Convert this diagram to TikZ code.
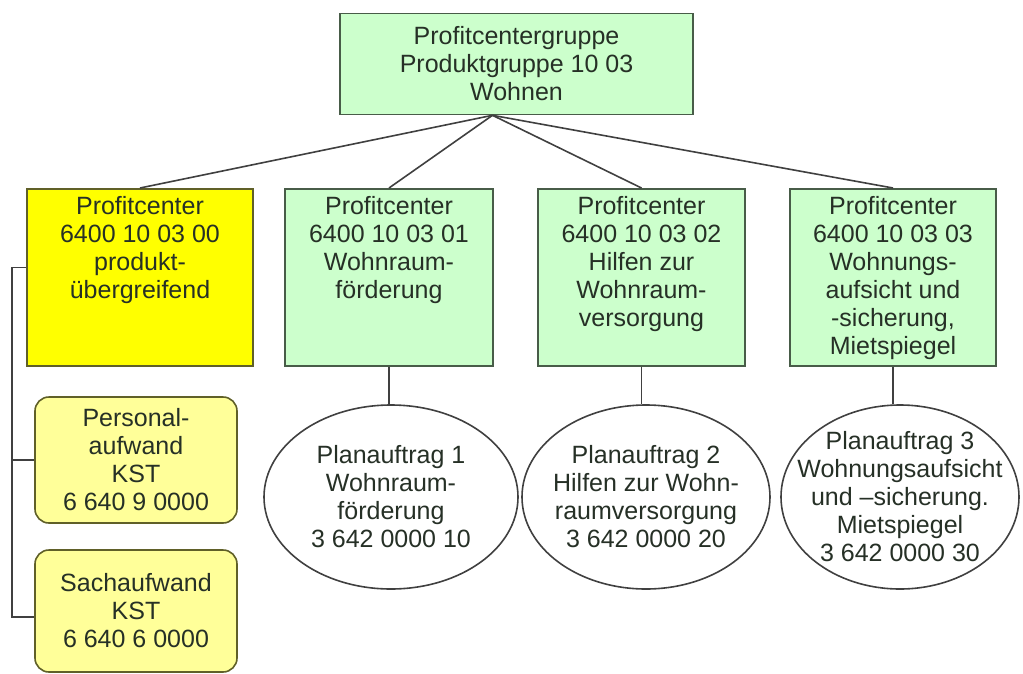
\documentclass[tikz,border=0pt]{standalone}
\usepackage{fontspec}
\setmainfont{Liberation Sans}
\definecolor{pcgreen}{RGB}{204,255,204}
\definecolor{pcline}{RGB}{72,92,72}
\definecolor{pcyellow}{RGB}{255,255,0}
\definecolor{kstyellow}{RGB}{255,255,153}
\definecolor{kstline}{RGB}{96,96,40}
\definecolor{pctext}{RGB}{38,48,38}
\definecolor{connline}{RGB}{64,64,64}
\usetikzlibrary{shapes.geometric, calc, positioning}

\newcommand{\toptext}[2]{\parbox[c][161pt][t]{#1}{\centering #2}}

\begin{document}
\begin{tikzpicture}[x=1pt, y=-1pt,
	every node/.style={font=\fontsize{25}{28}\selectfont, text=pctext},
	pcbox/.style={draw=pcline, fill=pcgreen, line width=1.6pt, inner sep=0pt, minimum height=177pt, anchor=north},
	kstbox/.style={draw=kstline, fill=kstyellow, line width=1.6pt, rounded corners=14pt, align=center, inner sep=0pt, minimum width=202pt},
	paell/.style={ellipse, draw=connline, fill=white, line width=1.6pt, inner sep=0pt, minimum height=184pt},
	palabel/.style={align=center, font=\fontsize{25}{28}\selectfont, text=pctext},
	conn/.style={draw=connline, line width=1.6pt}]
	\useasboundingbox (0,0) rectangle (1023,673);
	
	% Profitcentergruppe
	\node[draw=pcline, fill=pcgreen, line width=1.6pt, align=center, minimum width=353pt, minimum height=101pt, inner sep=0pt] (grp) at (516.5,64) {Profitcentergruppe\\Produktgruppe 10 03\\Wohnen};
	
	% Profitcenter
	\node[pcbox, fill=pcyellow, draw=kstline, minimum width=226pt] (pcY) at (140,188) {\toptext{220pt}{Profitcenter\\6400 10 03 00\\produkt-\\übergreifend}};
	\node[pcbox, minimum width=208pt] (pcA) at (389,188) {\toptext{204pt}{Profitcenter\\6400 10 03 01\\Wohnraum-\\förderung}};
	\node[pcbox, minimum width=207pt] (pcB) at (641.5,188) {\toptext{204pt}{Profitcenter\\6400 10 03 02\\Hilfen zur\\Wohnraum-\\versorgung}};
	\node[pcbox, minimum width=206pt] (pcC) at (893,188) {\toptext{204pt}{Profitcenter\\6400 10 03 03\\Wohnungs-\\aufsicht und\\-sicherung,\\Mietspiegel}};
	
	% Kostenstellen
	\node[kstbox, minimum height=126pt] (kstA) at (136,460) {Personal-\\aufwand\\KST\\6 640 9 0000};
	\node[kstbox, minimum height=122pt] (kstB) at (136,611) {Sachaufwand\\KST\\6 640 6 0000};
	
	% Planauftraege
	\node[paell, minimum width=254pt, label={[palabel]center:{Planauftrag 1\\Wohnraum-\\förderung\\3 642 0000 10}}] (paA) at (391,497) {};
	\node[paell, minimum width=248pt, label={[palabel]center:{Planauftrag 2\\Hilfen zur Wohn-\\raumversorgung\\3 642 0000 20}}] (paB) at (646,497) {};
	\node[paell, minimum width=238pt, label={[palabel]center:{Planauftrag 3\\Wohnungsaufsicht\\und –sicherung.\\Mietspiegel\\3 642 0000 30}}] (paC) at (900,497) {};
	
	\coordinate (apex) at ([xshift=-24pt]grp.south);
	\foreach \n in {pcY,pcA,pcB,pcC}
		\draw[conn] (apex) -- (\n.north);
	\foreach \b/\e in {pcA/paA,pcB/paB,pcC/paC}
		\draw[conn] (\b.south) -- (\b.south |- \e.north);
	\draw[conn] ([yshift=10pt]pcY.west) -- ++(-14,0) coordinate (spine) |- (kstA.west);
	\draw[conn] (spine) |- ([yshift=-6pt]kstB.west);
\end{tikzpicture}
\end{document}
